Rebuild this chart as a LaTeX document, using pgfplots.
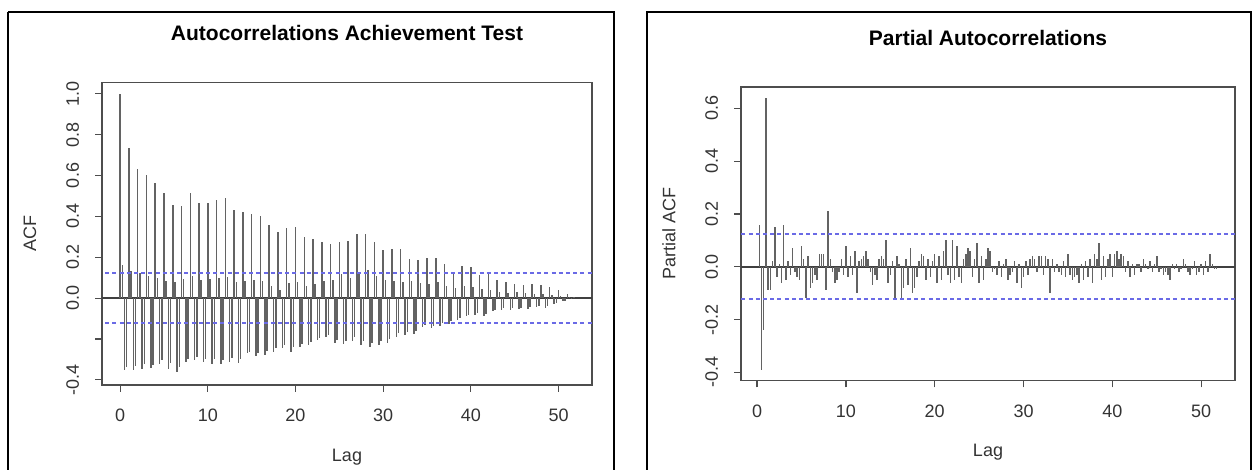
\documentclass[border=0pt]{standalone}
\usepackage{fontspec}
\setmainfont{Liberation Sans}
\usepackage{pgfplots}
\usepackage{pgfplotstable}
\pgfplotsset{compat=1.18}

\definecolor{spike}{HTML}{636363}
\definecolor{cibl}{HTML}{6A6AE6}
\definecolor{frame}{HTML}{4D4D4D}

% ACF, lags k, k+0.25, k+0.5, k+0.75
\pgfplotstableread{
k a0 a1 a2 a3
0 1.000 0.160 -0.353 -0.338
1 0.736 0.135 -0.350 -0.330
2 0.632 0.125 -0.345 -0.322
3 0.604 0.110 -0.342 -0.328
4 0.563 0.100 -0.320 -0.305
5 0.516 0.085 -0.345 -0.318
6 0.455 0.080 -0.362 -0.335
7 0.450 0.095 -0.312 -0.300
8 0.513 0.110 -0.303 -0.290
9 0.467 0.090 -0.312 -0.296
10 0.467 0.095 -0.320 -0.300
11 0.480 0.100 -0.320 -0.305
12 0.488 0.105 -0.312 -0.292
13 0.430 0.080 -0.317 -0.296
14 0.419 0.085 -0.270 -0.262
15 0.410 0.090 -0.284 -0.270
16 0.404 0.085 -0.279 -0.258
17 0.360 0.060 -0.262 -0.245
18 0.323 0.040 -0.245 -0.230
19 0.343 0.075 -0.262 -0.240
20 0.348 0.080 -0.237 -0.222
21 0.300 0.060 -0.228 -0.214
22 0.290 0.070 -0.205 -0.196
23 0.277 0.085 -0.188 -0.178
24 0.266 0.090 -0.221 -0.205
25 0.274 0.120 -0.224 -0.210
26 0.279 0.100 -0.208 -0.190
27 0.312 0.130 -0.228 -0.212
28 0.312 0.140 -0.237 -0.220
29 0.274 0.110 -0.228 -0.210
30 0.236 0.090 -0.221 -0.200
31 0.240 0.085 -0.188 -0.172
32 0.240 0.080 -0.180 -0.166
33 0.190 0.085 -0.175 -0.160
34 0.186 0.075 -0.142 -0.130
35 0.198 0.070 -0.147 -0.135
36 0.198 0.080 -0.135 -0.124
37 0.167 0.060 -0.125 -0.112
38 0.130 0.050 -0.106 -0.096
39 0.158 0.060 -0.089 -0.082
40 0.150 0.055 -0.081 -0.074
41 0.112 0.045 -0.086 -0.078
42 0.125 0.040 -0.064 -0.058
43 0.089 0.030 -0.056 -0.050
44 0.080 0.025 -0.056 -0.049
45 0.070 0.030 -0.053 -0.046
46 0.063 0.025 -0.053 -0.045
47 0.068 0.020 -0.043 -0.038
48 0.063 0.020 -0.048 -0.040
49 0.056 0.015 -0.031 -0.026
50 0.040 0.010 -0.015 -0.012
51 0.020 0.005 -0.003 0.004
}\acftab

% partial ACF, same lag layout (no lag 0)
\pgfplotstableread{
k p0 p1 p2 p3
0 nan 0.160 -0.390 -0.240
1 0.640 -0.090 -0.090 0.020
2 0.150 -0.040 0.010 -0.060
3 0.160 -0.050 0.020 -0.030
4 0.070 -0.020 -0.040 -0.050
5 0.080 0.030 -0.120 0.040
6 -0.080 -0.060 -0.030 -0.050
7 0.050 0.050 0.050 -0.090
8 0.210 0.030 -0.020 -0.060
9 -0.050 -0.020 0.030 -0.030
10 0.080 -0.040 0.040 -0.030
11 0.060 -0.100 0.020 0.030
12 0.040 0.060 0.030 -0.020
13 -0.070 -0.030 -0.050 0.030
14 0.040 0.030 0.100 -0.060
15 -0.030 0.020 -0.120 0.040
16 0.010 -0.120 -0.080 0.030
17 -0.070 0.070 -0.100 -0.080
18 -0.040 0.020 0.050 0.040
19 -0.050 0.030 -0.040 0.020
20 0.050 -0.060 0.040 -0.050
21 0.060 0.100 -0.030 -0.060
22 0.100 -0.050 0.080 -0.040
23 -0.060 0.030 0.050 0.070
24 0.060 -0.040 0.030 0.090
25 -0.060 0.040 -0.050 0.030
26 0.070 0.060 -0.020 -0.010
27 -0.030 0.020 -0.040 0.010
28 0.030 -0.050 -0.030 -0.020
29 0.020 -0.060 0.010 -0.080
30 -0.040 0.020 -0.030 0.030
31 0.040 0.030 -0.020 0.040
32 0.040 -0.030 0.040 0.030
33 -0.100 0.030 -0.020 0.010
34 -0.020 -0.030 0.020 -0.040
35 0.050 -0.030 -0.050 -0.040
36 -0.030 -0.060 0.010 -0.050
37 0.020 -0.040 0.030 -0.060
38 0.050 0.030 0.090 -0.050
39 0.040 -0.040 0.030 0.050
40 -0.040 0.050 0.060 0.030
41 0.050 0.040 -0.020 0.020
42 -0.040 0.010 -0.030 0.010
43 0.010 -0.020 0.030 0.010
44 -0.010 0.020 -0.020 0.010
45 0.040 -0.020 -0.010 -0.030
46 -0.020 -0.030 -0.050 0.010
47 -0.010 0.010 -0.020 -0.010
48 0.030 0.010 -0.020 -0.030
49 -0.010 0.020 -0.030 -0.020
50 0.010 -0.030 0.020 -0.020
51 0.050 0.010 -0.010 -0.010
}\pacftab

\pgfplotsset{
  rplot/.style={
    scale only axis,
    axis line style={frame, line width=0.6pt},
    tick style={frame, line width=0.6pt},
    tick align=outside,
    xtick pos=left, ytick pos=left,
    major tick length=3.5pt,
    xtick={0,10,20,30,40,50},
    xticklabels={0,10,20,30,40,50},
    xticklabel style={font=\fontsize{9}{10}\selectfont, text=black!80, yshift=-5pt},
    yticklabel style={font=\fontsize{9}{10}\selectfont, text=black!80, xshift=-4.5pt, rotate=90, anchor=south},
    label style={font=\fontsize{9}{10}\selectfont, text=black!80},
    xlabel={Lag},
    every axis title shift=0pt,
    title style={font=\bfseries\fontsize{10.5}{12}\selectfont, anchor=center},
  },
  spk/.style={ycomb, no markers, spike, line width=0.75pt},
  zl/.style={black!75, line width=0.8pt},
  ci/.style={cibl, line width=1pt, dash pattern=on 2pt off 1.6pt},
}

\begin{document}
\begin{tikzpicture}
\useasboundingbox (0,0) rectangle (626pt,235pt);
\draw[line width=0.9pt] (4pt,229pt) -- (4pt,-10pt);
\draw[line width=0.9pt] (4pt,229pt) -- (307pt,229pt) -- (307pt,-10pt);
\draw[line width=0.9pt] (323.5pt,-10pt) -- (323.5pt,229pt) -- (625.5pt,229pt) -- (625.5pt,-10pt);

\begin{axis}[rplot,
  at={(51pt,42.5pt)}, anchor=south west,
  width=245pt, height=151.25pt,
  xmin=-2.07, xmax=53.82, ymin=-0.425, ymax=1.055,
  ytick={-0.4,-0.2,0,0.2,0.4,0.6,0.8,1.0},
  yticklabels={-0.4,{},0.0,0.2,0.4,0.6,0.8,1.0},
  ylabel={ACF},
  ylabel style={at={(axis description cs:-0.147,0.5)}, anchor=center},
  xlabel style={at={(axis description cs:0.5,-0.24)}, anchor=center},
  title={Autocorrelations Achievement Test},
  title style={at={(axis description cs:0.5,1.164)}},
]
\addplot[zl] coordinates {(-5,0) (60,0)};
\addplot[spk] table[x expr=\thisrow{k}, y=a0] {\acftab};
\addplot[spk] table[x expr=\thisrow{k}+0.25, y=a1] {\acftab};
\addplot[spk] table[x expr=\thisrow{k}+0.5, y=a2] {\acftab};
\addplot[spk] table[x expr=\thisrow{k}+0.75, y=a3] {\acftab};
\addplot[ci] coordinates {(-5,0.123) (60,0.123)};
\addplot[ci] coordinates {(-5,-0.123) (60,-0.123)};
\end{axis}

\begin{axis}[rplot,
  at={(370.5pt,44.75pt)}, anchor=south west,
  width=247pt, height=146.75pt,
  xmin=-1.81, xmax=53.81, ymin=-0.431, ymax=0.681,
  ytick={-0.4,-0.2,0,0.2,0.4,0.6},
  yticklabels={-0.4,-0.2,0.0,0.2,0.4,0.6},
  ylabel={Partial ACF},
  ylabel style={at={(axis description cs:-0.146,0.5)}, anchor=center},
  xlabel style={at={(axis description cs:0.5,-0.245)}, anchor=center},
  title={Partial Autocorrelations},
  title style={at={(axis description cs:0.5,1.167)}},
]
\addplot[zl] coordinates {(-5,0) (60,0)};
\addplot[spk] table[x expr=\thisrow{k}, y=p0] {\pacftab};
\addplot[spk] table[x expr=\thisrow{k}+0.25, y=p1] {\pacftab};
\addplot[spk] table[x expr=\thisrow{k}+0.5, y=p2] {\pacftab};
\addplot[spk] table[x expr=\thisrow{k}+0.75, y=p3] {\pacftab};
\addplot[ci] coordinates {(-5,0.123) (60,0.123)};
\addplot[ci] coordinates {(-5,-0.123) (60,-0.123)};
\end{axis}
\end{tikzpicture}
\end{document}
